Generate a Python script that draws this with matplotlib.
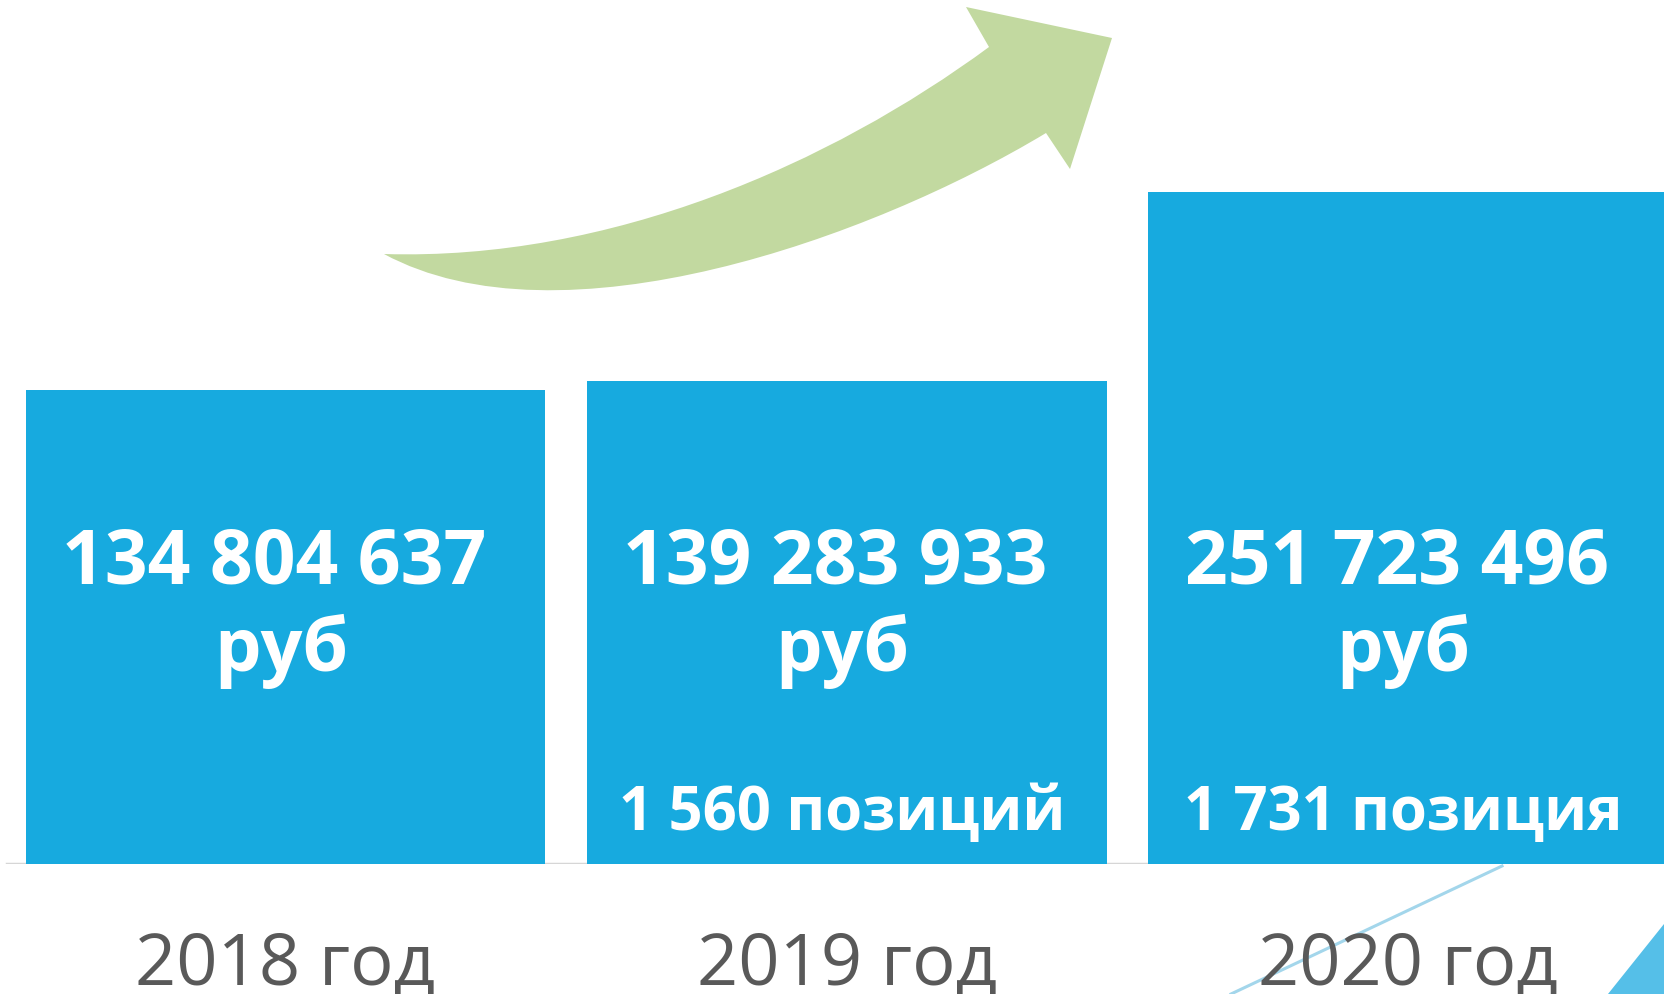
import numpy as np
import matplotlib.pyplot as plt
from matplotlib.path import Path
from matplotlib.patches import PathPatch, Polygon

# данные
years = ["2018 год", "2019 год", "2020 год"]
revenue = [134804637, 139283933, 251723496]
positions = [None, 1560, 1731]
pos_words = ["", "позиций", "позиция"]

BLUE = "#17aadf"
GREY = "#595959"
GREEN = "#c2d9a0"
P = 0.56  # степенная шкала, чтобы третий столбик влез


def fmt(n, sep=" "):
    return f"{n:,}".replace(",", sep)


plt.rcParams["font.family"] = ["Open Sans", "DejaVu Sans"]

fig = plt.figure(figsize=(16.64, 9.95), dpi=100)
ax = fig.add_axes([0, 130 / 995, 1, 865 / 995])
ax.set_yscale("function", functions=(lambda v: np.power(np.clip(v, 0, None), P),
                                     lambda y: np.power(np.clip(y, 0, None), 1 / P)))
x = np.arange(len(years))
ax.axhline(0, xmin=0.004, xmax=1, color="#d6d6d6", lw=2.5, zorder=1)
ax.bar(x, revenue, width=0.9264, color=BLUE, zorder=2)
ax.set_xlim(-0.5087, 2.456)
ax.set_ylim(0, 395e6)
ax.axis("off")

# подписи: пиксели от верха картинки -> доля осей
def fy(ypix):
    return (865 - ypix) / 865

tr = ax.get_xaxis_transform()
for i in range(len(years)):
    ax.text(x[i] - 0.02, fy(584), fmt(revenue[i]), transform=tr,
            ha="center", va="baseline", color="white", fontsize=54, fontweight="bold", zorder=5)
    ax.text(x[i] - 0.008, fy(671), "руб", transform=tr,
            ha="center", va="baseline", color="white", fontsize=53, fontweight="bold", zorder=5)
    if positions[i] is not None:
        ax.text(x[i] - 0.008, fy(830), fmt(positions[i]) + " " + pos_words[i], transform=tr,
                ha="center", va="baseline", color="white", fontsize=43, fontweight="bold", zorder=5)
    ax.text(x[i], fy(985), years[i], transform=tr,
            ha="center", va="baseline", color=GREY, fontsize=52, zorder=5)

# декоративный слой в пикселях
deco = fig.add_axes([0, 0, 1, 1], zorder=-1)
deco.set_xlim(0, 1664)
deco.set_ylim(995, 0)
deco.axis("off")

# зелёная стрелка роста
verts = [(384, 255),
         (610, 262), (830, 165), (989, 48),
         (966, 8), (1112, 39), (1070, 170), (1046, 134),
         (870, 240), (560, 350), (384, 255),
         (384, 255)]
codes = [Path.MOVETO,
         Path.CURVE4, Path.CURVE4, Path.CURVE4,
         Path.LINETO, Path.LINETO, Path.LINETO, Path.LINETO,
         Path.CURVE4, Path.CURVE4, Path.CURVE4,
         Path.CLOSEPOLY]
deco.add_patch(PathPatch(Path(verts, codes), facecolor=GREEN, edgecolor="none"))

# линия и уголок внизу справа
deco.plot([1502, 1231], [867, 995], color="#a3d6eb", lw=2.2)
deco.add_patch(Polygon([(1664, 925), (1664, 995), (1608, 995)], closed=True,
                       facecolor="#55bfe8", edgecolor="none"))

fig.savefig("out.png", dpi=100)
